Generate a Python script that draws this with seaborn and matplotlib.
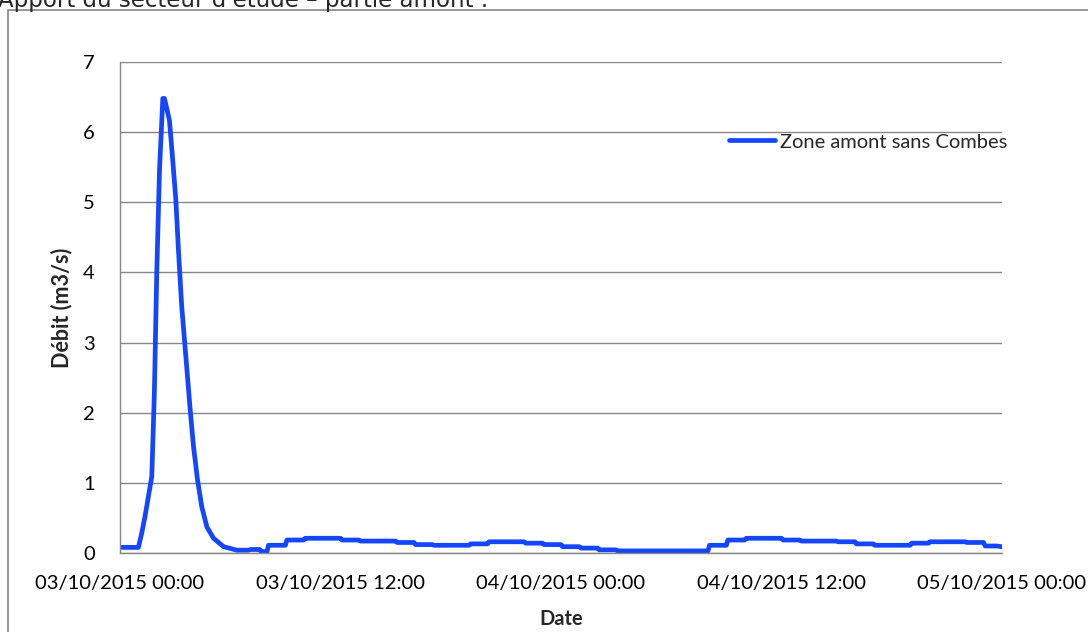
import numpy as np
import pandas as pd
import seaborn as sns
import matplotlib.pyplot as plt
import matplotlib.dates as mdates
from matplotlib.patches import Rectangle

# Débit de la zone amont (m3/s), lu sur le graphique
# pic de crue : heures depuis le 03/10/2015 00:00
peak_hours = [0.0, 1.0, 1.18, 1.36, 1.73, 1.87, 2.0, 2.15, 2.33, 2.42, 2.69, 2.87, 3.04,
              3.18, 3.36, 3.6, 3.82, 4.0, 4.22, 4.45, 4.73, 5.09, 5.64, 6.36]
peak_flow = [0.08, 0.08, 0.28, 0.52, 1.09, 2.28, 3.99, 5.46, 6.48, 6.48, 6.17, 5.6, 5.03,
             4.32, 3.51, 2.75, 2.04, 1.52, 1.04, 0.66, 0.37, 0.21, 0.09, 0.04]
# ensuite valeurs en paliers horaires
step_hours = [7, 7.6, 8, 9, 10, 12, 13, 15, 16, 17, 19, 20, 22, 23, 24, 25, 26, 27,
              32, 33, 34, 36, 37, 39, 40, 41, 43, 44, 46, 47]
step_flow = [0.05, 0.02, 0.11, 0.185, 0.21, 0.185, 0.17, 0.15, 0.12, 0.11, 0.13, 0.16,
             0.14, 0.12, 0.09, 0.07, 0.045, 0.03, 0.11, 0.185, 0.21, 0.185, 0.17, 0.16,
             0.13, 0.11, 0.14, 0.16, 0.15, 0.10]
end_hour, end_flow = 48.0, 0.09

series_name = "Zone amont sans Combes"
start = pd.Timestamp("2015-10-03 00:00")

# construction de la série complète (pic + paliers)
hours = list(peak_hours)
flow = list(peak_flow)
prev = peak_flow[-1]
for h, v in zip(step_hours, step_flow):
    hours += [h, h + 0.08]
    flow += [prev, v]
    prev = v
hours += [end_hour - 0.3, end_hour]
flow += [prev, end_flow]

df = pd.DataFrame({"Date": start + pd.to_timedelta(hours, unit="h"), "Débit": flow})

sns.set_style("white")
plt.rcParams['font.family'] = ['Lato', 'DejaVu Sans']

fig = plt.figure(figsize=(10.88, 6.32), dpi=100)
W, H = 1088, 632
ax = fig.add_axes([120 / W, 1 - 553 / H, 882 / W, 491 / H])

sns.lineplot(data=df, x="Date", y="Débit", ax=ax, color="#1446FF", linewidth=3.4,
             label=series_name)

ax.set_ylim(0, 7)
ax.set_yticks(range(0, 8))
ax.set_xlim(start, start + pd.Timedelta(hours=48))
ax.xaxis.set_major_locator(mdates.HourLocator(byhour=[0, 12]))
ax.xaxis.set_major_formatter(mdates.DateFormatter("%d/%m/%Y %H:%M"))
ax.grid(axis="y", color="#868686", linewidth=1)
ax.grid(axis="x", visible=False)
for s in ["top", "right"]:
    ax.spines[s].set_visible(False)
for s in ["left", "bottom"]:
    ax.spines[s].set_color("#868686")
    ax.spines[s].set_linewidth(1)
ax.tick_params(axis="both", length=0, labelsize=14.5, colors="#000000")
ax.tick_params(axis="x", pad=16)
ax.tick_params(axis="y", pad=18)

ax.set_xlabel("Date", fontsize=14.5, fontweight="bold", labelpad=12)
ax.set_ylabel("Débit (m3/s)", fontsize=15.5, fontweight="bold", labelpad=8)

ax.legend(loc="center left", bbox_to_anchor=(729 / W, 1 - 142 / H),
          bbox_transform=fig.transFigure, frameon=False, fontsize=14.5,
          handlelength=2.3, handletextpad=0.25, borderpad=0, borderaxespad=0)

# cadre du graphique et titre coupé en haut
fig.patches.append(Rectangle((8 / W, -0.1), 1.2, 1 - 10 / H + 0.1, transform=fig.transFigure,
                             fill=False, edgecolor="#868686", linewidth=1.2, zorder=0))
fig.text(-2 / W, 1 - 7 / H, "Apport du secteur d'étude – partie amont :",
         fontsize=16.5, family="DejaVu Sans", va="baseline", ha="left")

fig.savefig("out.png", dpi=100)
